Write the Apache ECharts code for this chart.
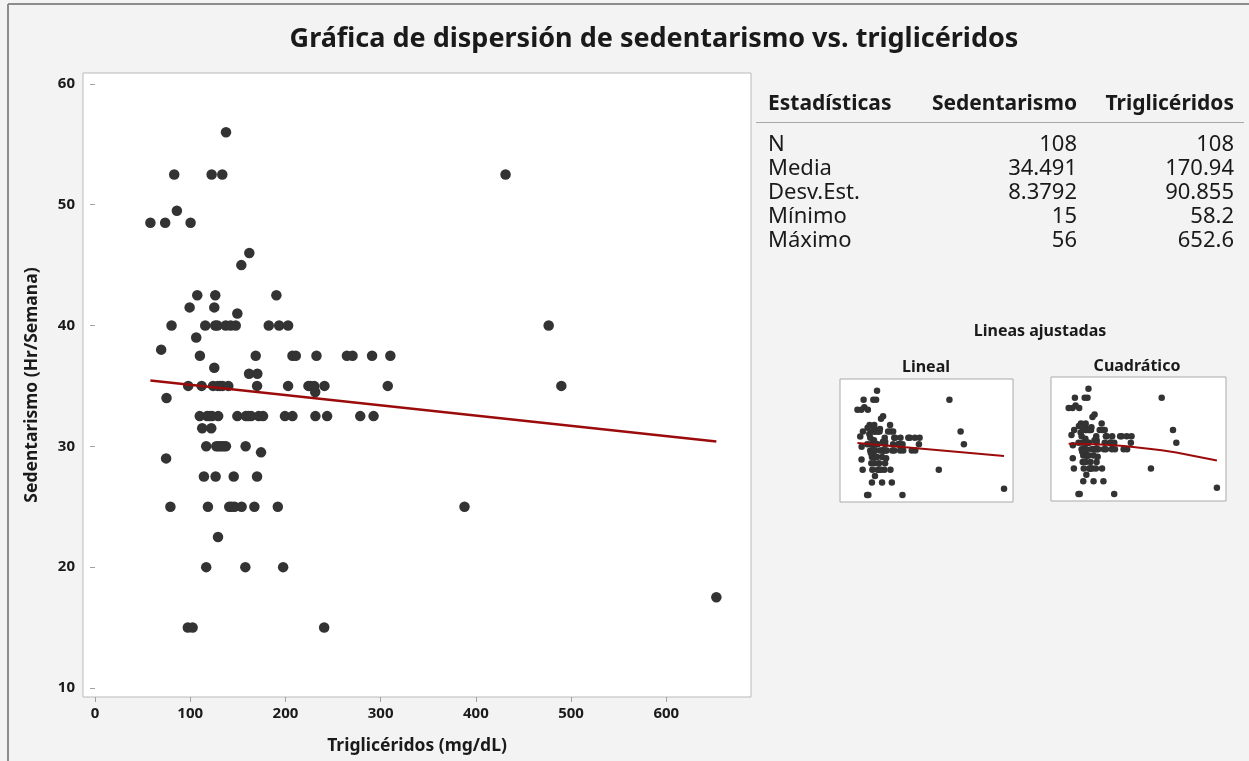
<!DOCTYPE html>
<html>
<head>
<meta charset="utf-8">
<title>Gráfica de dispersión de sedentarismo vs. triglicéridos</title>
<script src="https://cdn.jsdelivr.net/npm/echarts@6.0.0/dist/echarts.min.js"></script>
<style>
  html, body { margin: 0; padding: 0; background: #f3f3f3; }
  #chart { width: 1249px; height: 761px; }
</style>
</head>
<body>
<div id="chart"></div>
<script>
// Triglicéridos (mg/dL) and sedentarismo (Hr/Semana), one entry per participant (N = 108)
const trigliceridos = [
  137.6,
  83.2, 122.5, 133.7, 431.2,
  86,
  58.2, 73.7, 100.4,
  162.1,
  153.7,
  107.4, 126.3, 190.5,
  99.4, 125.3,
  149.5,
  80.4, 115.8, 126.3, 128.5, 137.3, 142.5, 147.8, 182.5, 193.4, 202.8, 476.5,
  106.3,
  69.5,
  110.2, 168.8, 207.4, 210.9, 232.6, 264.6, 270.5, 291, 310.2,
  125.3,
  161.8, 170.5,
  97.9, 112, 124, 129, 131.5, 134, 140, 170.2, 202.8, 224.2, 226, 230.2, 241, 307.5, 489.8,
  231.3,
  75.1,
  110, 117.8, 120.5, 123, 129.4, 149.5, 158.5, 161, 164, 172, 176.5, 199.5, 207.4, 231.5, 243.8, 278.6, 292.6,
  112.6, 122.1,
  116.8, 127.4, 129.8, 132.3, 135, 137.5, 158.2,
  174.4,
  74.7,
  114.4, 126.7, 145.7, 170.2,
  79.2, 118.6, 141, 143.5, 146.5, 154, 167.4, 192, 388.1,
  129.2,
  116.8, 157.9, 197.6,
  652.6,
  97.5, 102.5, 240.7
];
const sedentarismo = [
  56,
  52.5, 52.5, 52.5, 52.5,
  49.5,
  48.5, 48.5, 48.5,
  46,
  45,
  42.5, 42.5, 42.5,
  41.5, 41.5,
  41,
  40, 40, 40, 40, 40, 40, 40, 40, 40, 40, 40,
  39,
  38,
  37.5, 37.5, 37.5, 37.5, 37.5, 37.5, 37.5, 37.5, 37.5,
  36.5,
  36, 36,
  35, 35, 35, 35, 35, 35, 35, 35, 35, 35, 35, 35, 35, 35, 35,
  34.5,
  34,
  32.5, 32.5, 32.5, 32.5, 32.5, 32.5, 32.5, 32.5, 32.5, 32.5, 32.5, 32.5, 32.5, 32.5, 32.5, 32.5, 32.5,
  31.5, 31.5,
  30, 30, 30, 30, 30, 30, 30,
  29.5,
  29,
  27.5, 27.5, 27.5, 27.5,
  25, 25, 25, 25, 25, 25, 25, 25, 25,
  22.5,
  20, 20, 20,
  17.5,
  15, 15, 15
];

// Fitted models: intercept, slope (and quadratic term)
const ajusteLineal = [35.944, -0.0085];
const ajusteCuadratico = [34.53, 0.00225, -0.00001867];

// Axis ticks
const ticksX = [0, 100, 200, 300, 400, 500, 600];
const ticksY = [10, 20, 30, 40, 50, 60];

// Descriptive statistics table
const encabezados = ['Estadísticas', 'Sedentarismo', 'Triglicéridos'];
const statEtiquetas = ['N', 'Media', 'Desv.Est.', 'Mínimo', 'Máximo'];
const statSedentarismo = ['108', '34.491', '8.3792', '15', '56'];
const statTrigliceridos = ['108', '170.94', '90.855', '58.2', '652.6'];

const FONT = '"Noto Sans", "Open Sans", sans-serif';
const puntos = trigliceridos.map((x, i) => [x, sedentarismo[i]]);
const xMin = Math.min(...trigliceridos), xMax = Math.max(...trigliceridos);
const lineaLineal = [xMin, xMax].map(x => [x, ajusteLineal[0] + ajusteLineal[1] * x]);
const xOrdenados = Array.from(new Set(trigliceridos)).sort((a, b) => a - b);
const lineaCuadratica = xOrdenados.map(x => [x, ajusteCuadratico[0] + ajusteCuadratico[1] * x + ajusteCuadratico[2] * x * x]);

const PUNTO = '#333333';
const ROJO = '#9b0b0b';
const TEXTO = '#1a1a1a';

const graphic = [
  // frame edges
  { type: 'line', shape: { x1: 8, y1: 4, x2: 1249, y2: 4 }, style: { stroke: '#8c8c8c', lineWidth: 2 } },
  { type: 'line', shape: { x1: 8, y1: 4, x2: 8, y2: 761 }, style: { stroke: '#8c8c8c', lineWidth: 2 } },
  { type: 'text', style: { x: 654, y: 39, text: 'Gráfica de dispersión de sedentarismo vs. triglicéridos', textAlign: 'center', textVerticalAlign: 'middle', font: 'bold 27px ' + FONT, fill: TEXTO } },
  { type: 'text', style: { x: 768, y: 104, text: encabezados[0], textAlign: 'left', textVerticalAlign: 'middle', font: 'bold 21px ' + FONT, fill: TEXTO } },
  { type: 'text', style: { x: 1077, y: 104, text: encabezados[1], textAlign: 'right', textVerticalAlign: 'middle', font: 'bold 21px ' + FONT, fill: TEXTO } },
  { type: 'text', style: { x: 1234, y: 104, text: encabezados[2], textAlign: 'right', textVerticalAlign: 'middle', font: 'bold 21px ' + FONT, fill: TEXTO } },
  { type: 'line', shape: { x1: 756, y1: 122.5, x2: 1244, y2: 122.5 }, style: { stroke: '#a8a8a8', lineWidth: 1 } },
  { type: 'text', style: { x: 1040, y: 331, text: 'Lineas ajustadas', textAlign: 'center', textVerticalAlign: 'middle', font: 'bold 16px ' + FONT, fill: TEXTO } },
  { type: 'text', style: { x: 926, y: 367, text: 'Lineal', textAlign: 'center', textVerticalAlign: 'middle', font: 'bold 16px ' + FONT, fill: TEXTO } },
  { type: 'text', style: { x: 1137, y: 366, text: 'Cuadrático', textAlign: 'center', textVerticalAlign: 'middle', font: 'bold 16px ' + FONT, fill: TEXTO } }
];
statEtiquetas.forEach((et, i) => {
  const y = 145 + i * 24;
  graphic.push({ type: 'text', style: { x: 768, y, text: et, textAlign: 'left', textVerticalAlign: 'middle', font: '22px ' + FONT, fill: TEXTO } });
  graphic.push({ type: 'text', style: { x: 1077, y, text: statSedentarismo[i], textAlign: 'right', textVerticalAlign: 'middle', font: '22px ' + FONT, fill: TEXTO } });
  graphic.push({ type: 'text', style: { x: 1234, y, text: statTrigliceridos[i], textAlign: 'right', textVerticalAlign: 'middle', font: '22px ' + FONT, fill: TEXTO } });
});

const chart = echarts.init(document.getElementById('chart'), null, { renderer: 'canvas' });
chart.setOption({
  backgroundColor: '#f3f3f3',
  animation: false,
  textStyle: { fontFamily: FONT },
  grid: [
    { left: 83, top: 73, width: 668, height: 624, show: true, backgroundColor: '#ffffff', borderColor: '#b9b9b9', borderWidth: 1 },
    { left: 840, top: 379, width: 173, height: 123, show: true, backgroundColor: '#ffffff', borderColor: '#a9a9a9', borderWidth: 1 },
    { left: 1051, top: 377, width: 175, height: 124, show: true, backgroundColor: '#ffffff', borderColor: '#a9a9a9', borderWidth: 1 }
  ],
  xAxis: [
    {
      gridIndex: 0, type: 'value', min: -12.6, max: 689,
      name: 'Triglicéridos (mg/dL)', nameLocation: 'middle', nameGap: 40,
      nameTextStyle: { fontSize: 17.5, fontWeight: 'bold', color: TEXTO },
      axisLine: { show: false }, splitLine: { show: false },
      axisTick: { show: true, length: 5, customValues: ticksX, lineStyle: { color: '#a0a0a0' } },
      axisLabel: { customValues: ticksX, margin: 9, fontSize: 15, fontWeight: 'bold', color: TEXTO }
    },
    { gridIndex: 1, type: 'value', min: -12.6, max: 689, show: false },
    { gridIndex: 2, type: 'value', min: -12.6, max: 689, show: false }
  ],
  yAxis: [
    {
      gridIndex: 0, type: 'value', min: 9.25, max: 60.9,
      name: 'Sedentarismo (Hr/Semana)', nameLocation: 'middle', nameGap: 42, nameRotate: 90,
      nameTextStyle: { fontSize: 17.5, fontWeight: 'bold', color: TEXTO },
      axisLine: { show: false }, splitLine: { show: false },
      axisTick: { show: true, length: 5, customValues: ticksY, lineStyle: { color: '#a0a0a0' } },
      axisLabel: { customValues: ticksY, margin: 8, fontSize: 15, fontWeight: 'bold', color: TEXTO }
    },
    { gridIndex: 1, type: 'value', min: 12.3, max: 60.6, show: false },
    { gridIndex: 2, type: 'value', min: 12.3, max: 60.6, show: false }
  ],
  series: [
    { type: 'scatter', xAxisIndex: 0, yAxisIndex: 0, data: puntos, symbolSize: 10.5, itemStyle: { color: PUNTO, opacity: 1 }, silent: true },
    { type: 'line', xAxisIndex: 0, yAxisIndex: 0, data: lineaLineal, showSymbol: false, lineStyle: { color: ROJO, width: 2.5 }, silent: true },
    { type: 'scatter', xAxisIndex: 1, yAxisIndex: 1, data: puntos, symbolSize: 6.5, itemStyle: { color: PUNTO, opacity: 1 }, silent: true },
    { type: 'line', xAxisIndex: 1, yAxisIndex: 1, data: lineaLineal, showSymbol: false, lineStyle: { color: ROJO, width: 2 }, silent: true },
    { type: 'scatter', xAxisIndex: 2, yAxisIndex: 2, data: puntos, symbolSize: 6.5, itemStyle: { color: PUNTO, opacity: 1 }, silent: true },
    { type: 'line', xAxisIndex: 2, yAxisIndex: 2, data: lineaCuadratica, showSymbol: false, lineStyle: { color: ROJO, width: 2 }, silent: true }
  ],
  graphic: graphic
});
</script>
</body>
</html>
